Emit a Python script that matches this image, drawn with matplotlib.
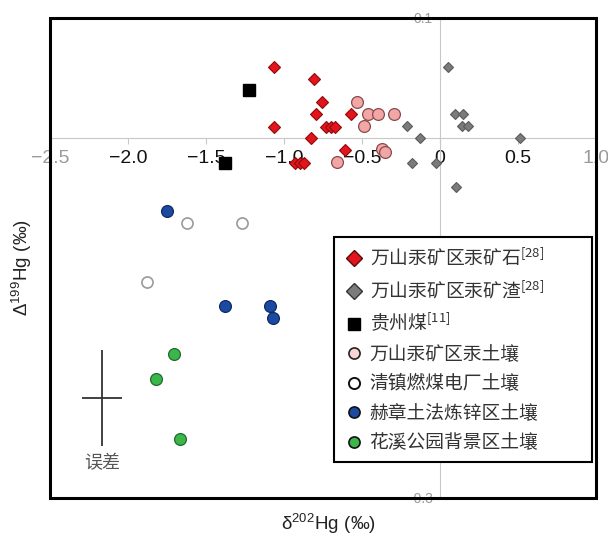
import matplotlib
matplotlib.use("Agg")
import matplotlib.pyplot as plt
from matplotlib.lines import Line2D
from matplotlib.patches import Rectangle

plt.rcParams['font.family'] = ['Liberation Sans', 'Noto Sans CJK SC', 'DejaVu Sans']
plt.rcParams['mathtext.fontset'] = 'custom'
plt.rcParams['mathtext.rm'] = 'Noto Sans CJK SC'
plt.rcParams['mathtext.it'] = 'Noto Sans CJK SC'
plt.rcParams['mathtext.sf'] = 'Liberation Sans'

# 万山汞矿区汞矿石
ore_x = [-1.064, -0.806, -0.756, -0.795, -0.571, -1.064, -0.73, -0.70, -0.67, -0.825, -0.609, -0.93, -0.90, -0.87]
ore_y = [0.059, 0.049, 0.030, 0.020, 0.020, 0.009, 0.009, 0.009, 0.009, 0.000, -0.010, -0.021, -0.021, -0.021]
# 万山汞矿区汞矿渣
slag_x = [0.053, 0.096, 0.15, 0.139, 0.18, -0.21, -0.128, 0.513, -0.177, -0.028, 0.103]
slag_y = [0.059, 0.020, 0.020, 0.010, 0.010, 0.010, 0.000, 0.000, -0.021, -0.021, -0.041]
# 贵州煤
coal_x = [-1.224, -1.378]
coal_y = [0.040, -0.021]
# 万山汞矿区汞土壤
wsoil_x = [-0.534, -0.46, -0.395, -0.293, -0.49, -0.37, -0.355, -0.658]
wsoil_y = [0.030, 0.020, 0.020, 0.020, 0.010, -0.009, -0.012, -0.020]
# 清镇燃煤电厂土壤
qsoil_x = [-1.624, -1.267, -1.88]
qsoil_y = [-0.071, -0.071, -0.120]
# 赫章土法炼锌区土壤
hsoil_x = [-1.752, -1.378, -1.09, -1.072]
hsoil_y = [-0.061, -0.140, -0.140, -0.150]
# 花溪公园背景区土壤
bsoil_x = [-1.703, -1.82, -1.667]
bsoil_y = [-0.180, -0.201, -0.251]

err_x, err_y = -2.167, -0.217
err_dx, err_dy = 0.127, 0.04

xticks = [-2.5, -2.0, -1.5, -1.0, -0.5, 0, 0.5, 1.0]
xtick_labels = ['−2.5', '−2.0', '−1.5', '−1.0', '−0.5', '0', '0.5', '1.0']
yticks = [-0.3, 0.1]
ytick_labels = ['-0.3', '0.1']

fig = plt.figure(figsize=(6.08, 5.4), dpi=100)
ax = fig.add_axes([0.0822, 0.0778, 0.898, 0.889])
ax.set_xlim(-2.5, 1.0)
ax.set_ylim(-0.3, 0.1)

for s in ['top', 'right']:
    ax.spines[s].set_visible(False)
for s in ['left', 'bottom']:
    ax.spines[s].set_position(('data', 0))
    ax.spines[s].set_color('#c8c8c8')
    ax.spines[s].set_linewidth(0.8)

ax.set_xticks(xticks)
ax.set_xticklabels(xtick_labels, fontsize=14, color='#111111')
ax.set_yticks(yticks)
ax.set_yticklabels(ytick_labels, fontsize=10, color='#9a9a9a')
ax.tick_params(axis='x', direction='out', length=4, color='#c8c8c8', pad=5)
ax.tick_params(axis='y', direction='out', length=3, color='#c8c8c8', pad=2)
lbls = ax.get_xticklabels()
lbls[0].set_color('#9a9a9a')
lbls[-1].set_color('#9a9a9a')

ax.add_patch(Rectangle((0, 0), 1, 1, transform=ax.transAxes, fill=False,
                       edgecolor='black', linewidth=2.2, clip_on=False, zorder=10))

ax.plot(ore_x, ore_y, 'D', ms=6, mfc='#e3141c', mec='#8a0c0c', mew=0.8, zorder=5)
ax.plot(slag_x, slag_y, 'D', ms=5.5, mfc='#7b7b7b', mec='#5a5a5a', mew=0.8, zorder=5)
ax.plot(coal_x, coal_y, 's', ms=8, mfc='black', mec='black', zorder=5)
ax.plot(wsoil_x, wsoil_y, 'o', ms=8.5, mfc='#f2a7a6', mec='#8a4a4a', mew=0.9, zorder=5)
ax.plot(qsoil_x, qsoil_y, 'o', ms=8, mfc='white', mec='#9a9a9a', mew=1.2, zorder=5)
ax.plot(hsoil_x, hsoil_y, 'o', ms=8.5, mfc='#1c4aa0', mec='#0d2a66', mew=0.9, zorder=5)
ax.plot(bsoil_x, bsoil_y, 'o', ms=8.5, mfc='#3cb54b', mec='#1e6b2c', mew=0.9, zorder=5)

ax.errorbar([err_x], [err_y], xerr=[err_dx], yerr=[err_dy], fmt='none',
            ecolor='#333333', elinewidth=1.3, capsize=0)
ax.text(err_x, err_y - 0.054, '误差', ha='center', va='center', fontsize=13,
        color='#555555', family=['Noto Sans CJK SC'])

handles = [
    Line2D([], [], ls='none', marker='D', ms=8, mfc='#e3141c', mec='#5a0a0a', mew=1.0),
    Line2D([], [], ls='none', marker='D', ms=8, mfc='#7b7b7b', mec='#333333', mew=1.0),
    Line2D([], [], ls='none', marker='s', ms=8, mfc='black', mec='black'),
    Line2D([], [], ls='none', marker='o', ms=8, mfc='#f9d4d4', mec='#222222', mew=1.2),
    Line2D([], [], ls='none', marker='o', ms=8, mfc='white', mec='#111111', mew=1.4),
    Line2D([], [], ls='none', marker='o', ms=8, mfc='#1c4aa0', mec='#111111', mew=1.2),
    Line2D([], [], ls='none', marker='o', ms=8, mfc='#3cb54b', mec='#111111', mew=1.2),
]
labels = ['万山汞矿区汞矿石$^{[28]}$', '万山汞矿区汞矿渣$^{[28]}$', '贵州煤$^{[11]}$',
          '万山汞矿区汞土壤', '清镇燃煤电厂土壤', '赫章土法炼锌区土壤', '花溪公园背景区土壤']
leg = ax.legend(handles, labels, loc='upper left', bbox_to_anchor=(0.52, 0.079, 0.473, 0.465),
                mode='expand', prop={'family': 'Noto Sans CJK SC', 'size': 13.5},
                frameon=True, fancybox=False, framealpha=1,
                edgecolor='black', labelspacing=0.45, handletextpad=0.3,
                handlelength=1.1, borderpad=0.5, borderaxespad=0)
leg.get_frame().set_linewidth(1.5)
for t in leg.get_texts():
    t.set_color('#333333')
leg.set_zorder(8)

ax.set_xlabel(r'$\mathsf{δ^{202}Hg\ (‰)}$', fontsize=13.5, color='#222222')
ax.xaxis.set_label_coords(0.51, -0.03)
ax.set_ylabel(r'$\mathsf{Δ^{199}Hg\ (‰)}$', fontsize=13.5, color='#222222')
ax.yaxis.set_label_coords(-0.03, 0.48)

fig.savefig('out.png', dpi=100)
